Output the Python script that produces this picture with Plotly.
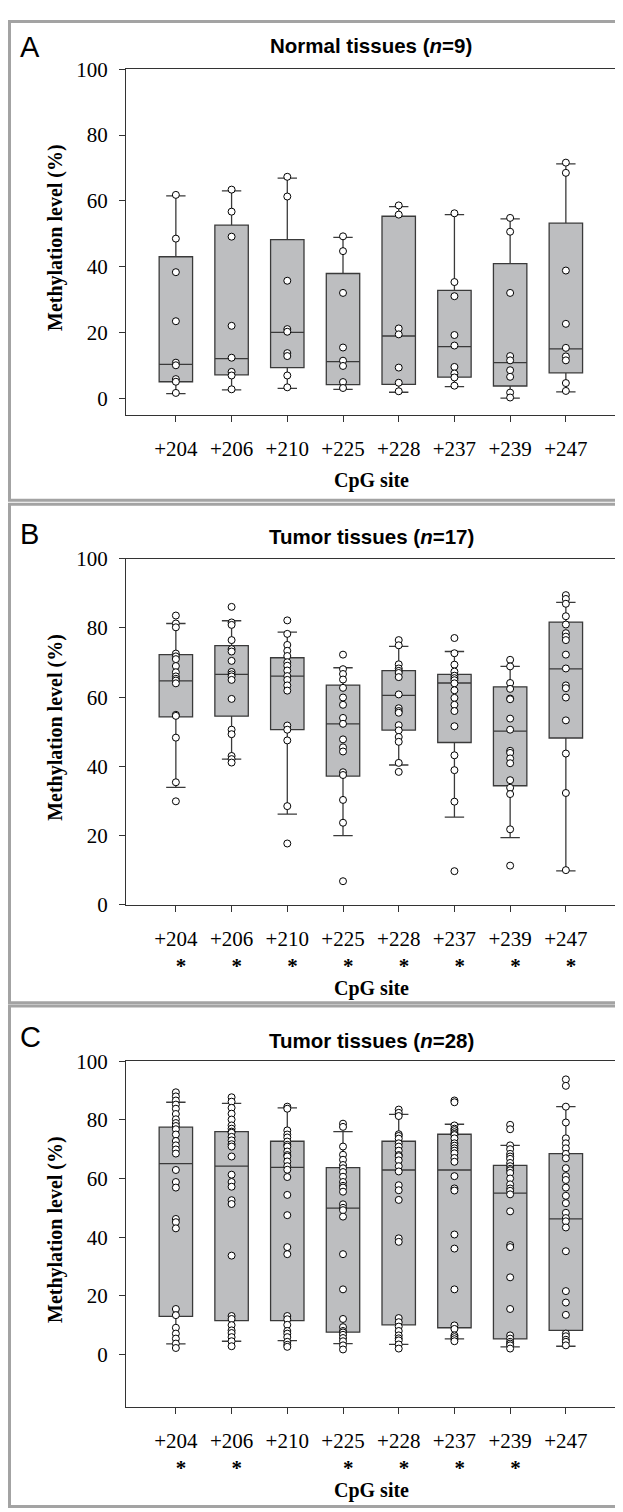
import plotly.graph_objects as go

W, H = 623, 1512

sites = ["+204", "+206", "+210", "+225", "+228", "+237", "+239", "+247"]

# ---------------- Panel A: Normal tissues (n=9) ----------------
A_q1 = [5.0, 7.1, 9.3, 4.1, 4.2, 6.4, 3.7, 7.7]
A_median = [10.3, 12.0, 20.0, 11.1, 18.9, 15.7, 10.8, 15.0]
A_q3 = [43.0, 52.6, 48.2, 37.9, 55.3, 32.8, 40.9, 53.2]
A_low = [1.4, 2.5, 3.0, 2.7, 1.8, 3.5, 0.0, 1.9]
A_high = [61.5, 63.0, 66.9, 48.9, 58.2, 55.8, 54.5, 71.2]
A_points = [
    [61.8, 48.5, 38.3, 23.4, 10.8, 10.0, 5.8, 5.0, 1.6],
    [63.4, 56.7, 49.1, 22.0, 12.3, 8.0, 6.9, 2.7],
    [67.3, 61.3, 35.7, 21.0, 20.2, 13.7, 12.8, 6.9, 3.3],
    [49.2, 44.7, 32.0, 15.4, 11.4, 9.8, 4.9, 3.1],
    [58.6, 55.8, 21.2, 19.4, 9.3, 4.7, 2.1],
    [56.2, 35.3, 31.0, 19.2, 16.0, 9.5, 7.5, 6.3, 3.8],
    [54.8, 50.6, 32.0, 12.8, 11.5, 8.5, 6.5, 1.7, 0.2],
    [71.6, 68.5, 38.8, 22.6, 15.3, 12.7, 11.5, 4.6, 2.2],
]

# ---------------- Panel B: Tumor tissues (n=17) ----------------
B_q1 = [54.3, 54.5, 50.6, 37.2, 50.5, 46.9, 34.4, 48.2]
B_median = [64.7, 66.6, 66.1, 52.3, 60.5, 64.1, 50.2, 68.2]
B_q3 = [72.3, 74.9, 71.4, 63.5, 67.7, 66.6, 63.0, 81.7]
B_low = [33.9, 42.1, 26.2, 20.0, 40.4, 25.3, 19.4, 9.8]
B_high = [81.3, 82.1, 78.8, 68.5, 74.7, 73.2, 68.9, 87.4]
B_points = [
    [83.6, 81.3, 80.2, 72.6, 71.8, 71.0, 69.0, 67.2, 66.0, 65.3, 64.8, 64.0, 54.9, 54.6, 48.3, 35.4, 29.9],
    [86.1, 81.6, 80.9, 76.5, 73.9, 73.2, 70.5, 67.3, 66.6, 66.0, 65.0, 59.5, 50.6, 49.3, 43.0, 42.1, 41.1],
    [82.2, 78.3, 75.1, 73.4, 71.9, 70.1, 69.1, 67.7, 66.1, 65.0, 63.4, 61.9, 51.8, 50.6, 47.5, 28.5, 17.7],
    [72.3, 68.1, 66.7, 65.1, 62.7, 59.9, 57.8, 54.0, 52.3, 47.8, 45.5, 44.3, 38.3, 37.5, 30.3, 23.7, 6.8],
    [76.5, 75.0, 69.5, 68.3, 67.6, 67.0, 65.8, 60.8, 56.8, 56.0, 55.5, 51.9, 50.4, 48.5, 47.1, 41.0, 38.4],
    [77.1, 72.7, 69.4, 67.4, 66.2, 65.5, 64.9, 64.0, 62.0, 59.8, 57.8, 56.0, 51.6, 43.2, 38.9, 29.8, 9.7],
    [70.8, 68.9, 64.1, 62.4, 59.6, 59.4, 53.8, 50.6, 44.5, 43.9, 42.3, 40.9, 36.0, 33.8, 32.0, 21.8, 11.3],
    [89.5, 88.4, 87.0, 83.4, 81.0, 78.5, 77.5, 76.5, 72.3, 68.3, 63.4, 62.6, 59.9, 53.3, 43.7, 32.3, 10.0],
]

# ---------------- Panel C: Tumor tissues (n=28) ----------------
C_q1 = [13.0, 11.5, 11.5, 7.6, 10.1, 9.1, 5.3, 8.2]
C_median = [65.1, 64.2, 63.8, 49.9, 62.9, 62.9, 55.0, 46.2]
C_q3 = [77.5, 76.0, 72.7, 63.7, 72.7, 75.1, 64.5, 68.5]
C_low = [3.6, 4.5, 4.7, 3.7, 3.4, 5.3, 2.6, 2.8]
C_high = [86.0, 85.6, 84.1, 76.0, 81.9, 78.5, 71.3, 84.5]
C_points = [
    [89.4, 88.0, 86.6, 85.2, 83.8, 82.0, 80.2, 78.9, 77.9, 76.8, 75.0, 72.8, 71.3, 69.9, 68.5, 62.9, 58.8, 56.9, 46.2, 45.1, 43.0, 15.5, 13.4, 9.1, 7.1, 5.4, 3.7, 2.2],
    [87.7, 86.2, 84.1, 82.1, 80.1, 78.1, 77.0, 76.0, 75.6, 74.2, 73.0, 71.7, 70.9, 67.5, 61.3, 58.8, 57.2, 52.6, 51.3, 33.7, 13.1, 12.1, 10.0, 8.2, 7.3, 5.9, 4.5, 2.8],
    [84.5, 83.8, 76.4, 75.0, 74.0, 72.6, 71.5, 70.9, 69.2, 68.0, 67.5, 65.8, 64.2, 63.0, 60.5, 54.4, 47.5, 36.6, 34.2, 13.1, 12.0, 10.1, 8.0, 7.1, 5.9, 4.3, 3.3, 2.6],
    [78.7, 77.6, 70.9, 68.1, 66.4, 64.6, 63.5, 62.2, 60.6, 58.8, 57.5, 56.9, 55.5, 51.2, 50.0, 49.2, 47.0, 34.2, 22.2, 12.1, 9.3, 8.0, 7.5, 6.7, 5.6, 4.5, 3.1, 1.7],
    [83.5, 82.4, 81.3, 75.1, 74.5, 73.6, 72.0, 70.9, 69.5, 68.0, 67.6, 66.2, 64.2, 62.4, 57.7, 56.0, 52.7, 39.6, 38.4, 12.4, 11.0, 9.5, 8.0, 6.5, 5.5, 4.8, 3.4, 2.0],
    [86.6, 86.0, 78.1, 77.0, 76.5, 75.8, 75.2, 74.8, 73.7, 72.0, 71.2, 70.3, 69.5, 68.6, 67.0, 65.7, 60.8, 56.6, 55.9, 40.9, 36.1, 22.2, 9.9, 8.7, 6.5, 5.9, 5.2, 4.5],
    [78.3, 76.8, 71.3, 70.0, 68.4, 67.5, 66.7, 65.3, 64.2, 63.3, 62.8, 61.9, 60.0, 58.0, 56.6, 55.8, 54.6, 48.8, 37.3, 36.6, 26.3, 15.5, 6.5, 5.4, 4.3, 3.7, 3.1, 2.0],
    [93.8, 91.6, 84.5, 79.1, 73.7, 72.0, 70.3, 68.4, 66.9, 63.5, 60.8, 59.5, 56.9, 54.1, 51.6, 48.3, 46.5, 45.4, 43.3, 35.2, 21.6, 17.7, 13.5, 7.1, 6.2, 5.0, 4.3, 3.1],
]

titles = ["<b>Normal tissues (<i>n</i>=9)</b>",
          "<b>Tumor tissues (<i>n</i>=17)</b>",
          "<b>Tumor tissues (<i>n</i>=28)</b>"]
letters = ["A", "B", "C"]
A_signif = []
B_signif = ["+204", "+206", "+210", "+225", "+228", "+237", "+239", "+247"]
C_signif = ["+204", "+206", "+225", "+228", "+237", "+239"]

# ---------------- layout geometry (pixels) ----------------
def py(p):
    return 1 - p / H

def px(p):
    return p / W

panels = [
    dict(q1=A_q1, med=A_median, q3=A_q3, lo=A_low, hi=A_high, pts=A_points,
         top=50, bot=401, yr=[-5.0, 100], sig=A_signif),
    dict(q1=B_q1, med=B_median, q3=B_q3, lo=B_low, hi=B_high, pts=B_points,
         top=547.5, bot=899, yr=[0, 100], sig=B_signif),
    dict(q1=C_q1, med=C_median, q3=C_q3, lo=C_low, hi=C_high, pts=C_points,
         top=1058, bot=1409, yr=[-17.8, 100], sig=C_signif),
]
title_y = [26, 525, 1037]
letter_y = [27, 522, 1033]
xlab_y = [468, 984, 1494]
frames = [(1.5, 488), (492, 998.5), (1002, 1510.5)]

X0, X1 = 118, 608
AX = "#333333"
SERIF = "Liberation Serif, Times New Roman, serif"
SANS = "Liberation Sans, Arial, sans-serif"
NB = "\u00a0"

fig = go.Figure()
layout = dict(width=W, height=H, margin=dict(l=0, r=0, t=0, b=0),
              paper_bgcolor="white", plot_bgcolor="white", showlegend=False)
annotations = []
shapes = []

for i, p in enumerate(panels):
    sfx = "" if i == 0 else str(i + 1)
    xa, ya = "x" + sfx, "y" + sfx
    fig.add_trace(go.Box(
        x=sites, q1=p["q1"], median=p["med"], q3=p["q3"],
        lowerfence=p["lo"], upperfence=p["hi"],
        xaxis=xa, yaxis=ya, width=0.6, whiskerwidth=0.58,
        fillcolor="#bdbec0", line=dict(color="#3a3a3a", width=1.3),
        boxpoints=False, hoverinfo="skip"))
    xs, ys = [], []
    for s, vals in zip(sites, p["pts"]):
        xs += [s] * len(vals)
        ys += vals
    fig.add_trace(go.Scatter(
        x=xs, y=ys, mode="markers", xaxis=xa, yaxis=ya,
        marker=dict(symbol="circle", size=7, color="white",
                    line=dict(color="black", width=1)),
        hoverinfo="skip"))

    ticktext = [s + ("<br>" + NB * 2 + "<b>*</b>" if s in p["sig"] else "") for s in sites]

    layout["xaxis" + sfx] = dict(
        domain=[px(X0), px(X1)], anchor=ya, type="category",
        categoryorder="array", categoryarray=sites, range=[-0.895, 7.9],
        tickvals=sites, ticktext=ticktext,
        showline=True, linecolor=AX, linewidth=1.3, mirror=True,
        ticks="outside", ticklen=6, tickcolor=AX, tickwidth=1.2,
        tickfont=dict(family=SERIF, size=21, color="black"),
        ticklabelstandoff=9, showgrid=False, zeroline=False)
    layout["yaxis" + sfx] = dict(
        domain=[py(p["bot"]), py(p["top"])], anchor=xa, range=p["yr"],
        tickvals=[0, 20, 40, 60, 80, 100],
        showline=True, linecolor=AX, linewidth=1.3, mirror=True,
        ticks="outside", ticklen=6, tickcolor=AX, tickwidth=1.2,
        tickfont=dict(family=SERIF, size=21, color="black"),
        ticklabelstandoff=7, showgrid=False, zeroline=False)

    cx = px((X0 + X1) / 2)
    annotations.append(dict(text=letters[i], x=px(10), y=py(letter_y[i]),
                            xref="paper", yref="paper", xanchor="left", yanchor="middle",
                            showarrow=False, font=dict(family=SANS, size=29, color="black")))
    annotations.append(dict(text=titles[i], x=cx, y=py(title_y[i]),
                            xref="paper", yref="paper", xanchor="center", yanchor="middle",
                            showarrow=False, font=dict(family=SANS, size=20.5, color="black")))
    annotations.append(dict(text="<b>CpG site</b>", x=cx, y=py(xlab_y[i]),
                            xref="paper", yref="paper", xanchor="center", yanchor="middle",
                            showarrow=False, font=dict(family=SERIF, size=20, color="black")))
    annotations.append(dict(text="<b>Methylation level (%)</b>", x=px(48),
                            y=py((p["top"] + p["bot"]) / 2 - 4),
                            xref="paper", yref="paper", xanchor="center", yanchor="middle",
                            textangle=-90, showarrow=False,
                            font=dict(family=SERIF, size=20, color="black")))
    f0, f1 = frames[i]
    shapes.append(dict(type="rect", xref="paper", yref="paper",
                       x0=px(1.5), x1=px(621.5), y0=py(f1), y1=py(f0),
                       line=dict(color="#a3a3a3", width=3), fillcolor="rgba(0,0,0,0)"))

layout["annotations"] = annotations
layout["shapes"] = shapes
fig.update_layout(**layout)
fig.write_html("out.html")
